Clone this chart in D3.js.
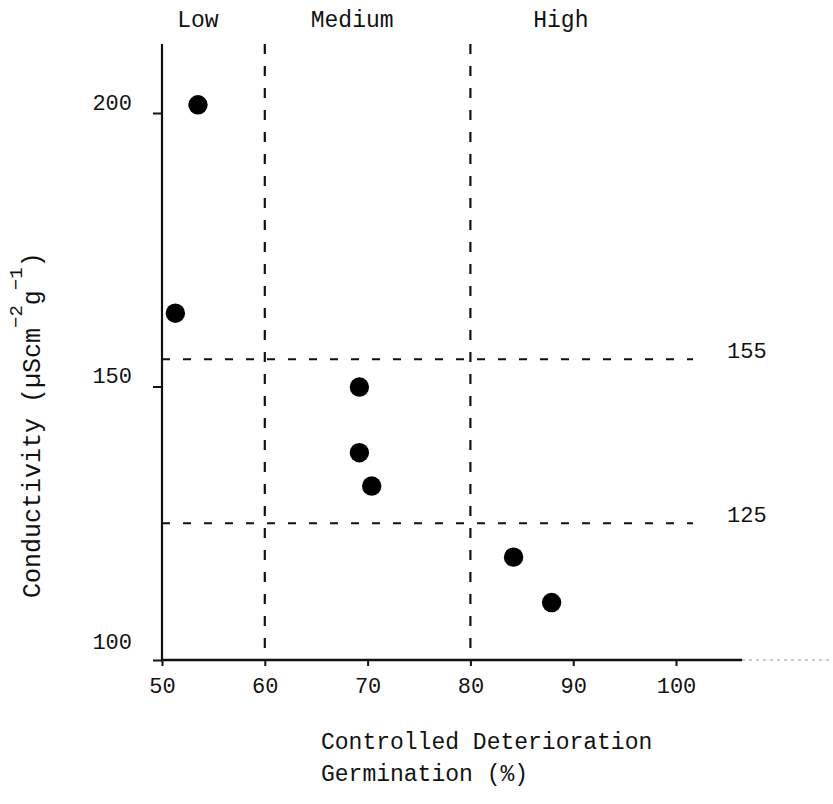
<!DOCTYPE html>
<html lang="en">
<head>
    <meta charset="UTF-8">
    <title>Conductivity vs Controlled Deterioration Germination</title>
    <script src="https://cdnjs.cloudflare.com/ajax/libs/d3/7.8.5/d3.min.js"></script>
    <style>
        body {
            margin: 0;
            background-color: #fff;
        }
        svg text {
            font-family: "Liberation Mono", "DejaVu Sans Mono", monospace;
            font-size: 22px;
            fill: #111;
        }
        .title { font-size: 23px; }
        .ytitle { font-size: 25px; }
        .sup { font-size: 19px; }
    </style>
</head>
<body>
<svg id="chart" width="833" height="804"></svg>

<script>
// Data
const germination = [53.5, 51.3, 69.2, 69.2, 70.4, 84.2, 87.9];
const conductivity = [201.5, 163.4, 149.9, 137.9, 131.8, 118.8, 110.5];

const xTicks = [50, 60, 70, 80, 90, 100];
const yTicks = [100, 150, 200];

// Vigour class boundaries
const germinationCuts = [60, 80];
const conductivityCuts = [155, 125];
const classNames = ["Low", "Medium", "High"];
const classLabelAt = [53.5, 68.5, 88.8];

const svg = d3.select("#chart");

// Scales
const x = d3.scaleLinear().domain([50, 100]).range([162, 676]);
const y = d3.scaleLinear().domain([100, 200]).range([660, 113]);

const axisTop = 44;
const axisRight = 742;

// Dashed class boundary lines
svg.append("g")
    .selectAll("line")
    .data(germinationCuts)
    .join("line")
    .attr("x1", d => x(d)).attr("x2", d => x(d))
    .attr("y1", axisTop).attr("y2", y(100))
    .attr("stroke", "#111")
    .attr("stroke-width", 2.2)
    .attr("stroke-dasharray", "10,12");

svg.append("g")
    .selectAll("line")
    .data(conductivityCuts)
    .join("line")
    .attr("x1", x(50)).attr("x2", 693)
    .attr("y1", d => y(d)).attr("y2", d => y(d))
    .attr("stroke", "#111")
    .attr("stroke-width", 2)
    .attr("stroke-dasharray", "8,13");

// Boundary value labels on the right
svg.append("g")
    .selectAll("text")
    .data(conductivityCuts)
    .join("text")
    .attr("x", 727)
    .attr("y", d => y(d) - 1)
    .text(d => d);

// Axes
const xAxis = svg.append("g")
    .attr("transform", `translate(0,${y(100)})`)
    .call(d3.axisBottom(x).tickValues(xTicks).tickSize(6).tickSizeOuter(0));
xAxis.select(".domain").remove();
xAxis.selectAll(".tick line").attr("stroke", "#111").attr("stroke-width", 2);
xAxis.selectAll(".tick text").attr("y", 33).attr("dy", 0).attr("fill", "#111");

svg.append("line")
    .attr("x1", x(50) - 1).attr("x2", axisRight)
    .attr("y1", y(100)).attr("y2", y(100))
    .attr("stroke", "#111").attr("stroke-width", 2.5);
svg.append("line")
    .attr("x1", axisRight).attr("x2", 833)
    .attr("y1", y(100)).attr("y2", y(100))
    .attr("stroke", "#999").attr("stroke-width", 1)
    .attr("stroke-dasharray", "3,4");

const yAxis = svg.append("g")
    .attr("transform", `translate(${x(50)},0)`)
    .call(d3.axisLeft(y).tickValues(yTicks).tickSize(9).tickPadding(21).tickSizeOuter(0));
yAxis.select(".domain").remove();
yAxis.selectAll(".tick line").attr("stroke", "#111").attr("stroke-width", 2);
// bottom label sits a bit higher, clear of the axis corner
yAxis.selectAll(".tick text")
    .attr("dy", d => d === yTicks[0] ? -12 : -4)
    .attr("fill", "#111");

svg.append("line")
    .attr("x1", x(50)).attr("x2", x(50))
    .attr("y1", axisTop).attr("y2", y(100) + 1)
    .attr("stroke", "#111").attr("stroke-width", 2.2);

// Points
svg.append("g")
    .selectAll("circle")
    .data(germination.map((g, i) => [g, conductivity[i]]))
    .join("circle")
    .attr("cx", d => x(d[0]))
    .attr("cy", d => y(d[1]))
    .attr("r", 9.7)
    .attr("fill", "#000");

// Class labels across the top
svg.append("g")
    .selectAll("text")
    .data(classNames)
    .join("text")
    .attr("class", "title")
    .attr("x", (d, i) => x(classLabelAt[i]))
    .attr("y", 27)
    .attr("text-anchor", "middle")
    .text(d => d);

// X axis title (two lines)
const xTitle = svg.append("text")
    .attr("class", "title")
    .attr("x", 321)
    .attr("y", 749);
xTitle.append("tspan").attr("x", 321).text("Controlled Deterioration");
xTitle.append("tspan").attr("x", 321).attr("dy", 32).text("Germination (%)");

// Y axis title with superscripts
const yTitle = svg.append("text")
    .attr("class", "ytitle")
    .attr("transform", "translate(40,598) rotate(-90)");
yTitle.append("tspan").text("Conductivity (\u00b5Scm");
yTitle.append("tspan").attr("class", "sup").attr("dy", -18).text("\u22122");
yTitle.append("tspan").attr("dy", 18).text("g");
yTitle.append("tspan").attr("class", "sup").attr("dy", -18).text("\u22121");
yTitle.append("tspan").attr("dy", 18).text(")");
</script>
</body>
</html>
